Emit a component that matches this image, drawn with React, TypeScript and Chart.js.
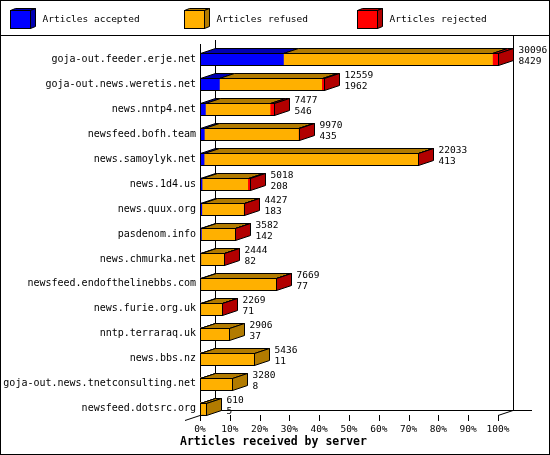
import React, { useEffect, useRef } from "react";
import { Chart, registerables } from "chart.js";

Chart.register(...registerables);

const servers = [
  "goja-out.feeder.erje.net",
  "goja-out.news.weretis.net",
  "news.nntp4.net",
  "newsfeed.bofh.team",
  "news.samoylyk.net",
  "news.1d4.us",
  "news.quux.org",
  "pasdenom.info",
  "news.chmurka.net",
  "newsfeed.endofthelinebbs.com",
  "news.furie.org.uk",
  "nntp.terraraq.uk",
  "news.bbs.nz",
  "goja-out.news.tnetconsulting.net",
  "newsfeed.dotsrc.org",
];
// numbers printed next to each bar
const offered = [30096, 12559, 7477, 9970, 22033, 5018, 4427, 3582, 2444, 7669, 2269, 2906, 5436, 3280, 610];
const accepted = [8429, 1962, 546, 435, 413, 208, 183, 142, 82, 77, 71, 37, 11, 8, 5];
const refused = [21107, 10327, 6531, 9505, 21580, 4610, 4214, 3415, 2342, 7567, 2183, 2869, 5425, 3272, 605];
const rejected = [560, 270, 400, 30, 40, 200, 30, 25, 20, 25, 15, 0, 0, 0, 0];

const seriesNames = ["Articles accepted", "Articles refused", "Articles rejected"];
const faceColors = ["#0000ff", "#ffb000", "#ff0000"];
const shadeColors = ["#0000b2", "#b27b00", "#b20000"];
const percentTicks = [0, 10, 20, 30, 40, 50, 60, 70, 80, 90, 100];
const axisTitle = "Articles received by server";

const maxOffered = Math.max(...offered);
const DX = 15;
const DY = 5;
const MONO = '"DejaVu Sans Mono", monospace';

const px = (v: number) => Math.round(v) + 0.5;

const poly = (ctx: CanvasRenderingContext2D, pts: number[][], fill: string) => {
  ctx.beginPath();
  pts.forEach(([x, y], i) => (i ? ctx.lineTo(x, y) : ctx.moveTo(x, y)));
  ctx.closePath();
  ctx.fillStyle = fill;
  ctx.fill();
  ctx.stroke();
};

const line = (ctx: CanvasRenderingContext2D, x1: number, y1: number, x2: number, y2: number) => {
  ctx.beginPath();
  ctx.moveTo(x1, y1);
  ctx.lineTo(x2, y2);
  ctx.stroke();
};

const box3d = {
  id: "box3d",
  beforeDraw(chart: any) {
    const { ctx, width, height } = chart;
    ctx.save();
    ctx.fillStyle = "#fff";
    ctx.fillRect(0, 0, width, height);
    ctx.restore();
  },
  beforeDatasetsDraw(chart: any) {
    const { ctx, chartArea: a, scales } = chart;
    const floorY = a.bottom - 6;
    ctx.save();
    ctx.strokeStyle = "#000";
    ctx.lineWidth = 1;
    // back wall + floor
    line(ctx, px(a.left + DX), a.top - 7, px(a.left + DX), px(floorY - DY));
    line(ctx, px(a.right + DX), 35, px(a.right + DX), px(floorY - DY));
    line(ctx, a.left + DX, px(floorY - DY), a.right + DX + 19, px(floorY - DY));
    line(ctx, a.left - DX, floorY + DY + 0.5, a.left + DX, floorY - DY + 0.5);
    line(ctx, a.right, floorY + 0.5, a.right + DX, floorY - DY + 0.5);
    // front axis
    line(ctx, px(a.left), a.top - 3, px(a.left), floorY + 6);
    scales.x.ticks.forEach((t: any) => {
      const x = px(scales.x.getPixelForValue(t.value));
      line(ctx, x, floorY, x, floorY + 6);
    });
    ctx.restore();
  },
  afterDatasetsDraw(chart: any) {
    const { ctx, scales } = chart;
    const metas = [0, 1, 2].map((d) => chart.getDatasetMeta(d));
    const series = [accepted, refused, rejected];
    ctx.save();
    ctx.strokeStyle = "#000";
    ctx.lineWidth = 1;
    servers.forEach((_, i) => {
      const b0 = metas[0].data[i];
      const top = Math.round(b0.y - b0.height / 2) + 0.5;
      const bottom = top + Math.round(b0.height);
      const left = px(scales.x.getPixelForValue(0));
      const right = px(scales.x.getPixelForValue(offered[i]));
      let last = 0;
      series.forEach((s, d) => {
        if (s[i] <= 0) return;
        last = d;
        const el = metas[d].data[i];
        const x0 = Math.max(left, px(el.base));
        const x1 = Math.min(right, px(el.x));
        poly(ctx, [[x0, top], [x0 + DX, top - DY], [x1 + DX, top - DY], [x1, top]], shadeColors[d]);
      });
      poly(ctx, [[right, top], [right + DX, top - DY], [right + DX, bottom - DY], [right, bottom]], shadeColors[last]);
      ctx.strokeRect(left, top, right - left, bottom - top);
      ctx.fillStyle = "#000";
      ctx.font = `9.5px ${MONO}`;
      ctx.textAlign = "left";
      ctx.textBaseline = "middle";
      const cy = (top + bottom) / 2;
      ctx.fillText(String(offered[i]), right + DX + 5, cy - 9);
      ctx.fillText(String(accepted[i]), right + DX + 5, cy + 2);
    });
    ctx.restore();
  },
  afterDraw(chart: any) {
    const { ctx, width, height } = chart;
    ctx.save();
    ctx.strokeStyle = "#000";
    ctx.lineWidth = 1;
    // legend
    seriesNames.forEach((name, d) => {
      const x = Math.round(10 + d * 173.7) + 0.5;
      const y = 10.5;
      poly(ctx, [[x, y], [x + 5, y - 2], [x + 25, y - 2], [x + 20, y]], shadeColors[d]);
      poly(ctx, [[x + 20, y], [x + 25, y - 2], [x + 25, y + 16], [x + 20, y + 18]], shadeColors[d]);
      ctx.fillStyle = faceColors[d];
      ctx.fillRect(x, y, 20, 18);
      ctx.strokeRect(x, y, 20, 18);
      ctx.fillStyle = "#000";
      ctx.font = `9.5px ${MONO}`;
      ctx.textBaseline = "middle";
      ctx.fillText(name, x + 32, 20);
    });
    line(ctx, 0, 35.5, width, 35.5);
    ctx.font = `bold 11.5px ${MONO}`;
    ctx.fillStyle = "#000";
    ctx.textBaseline = "middle";
    ctx.fillText(axisTitle, 180, 442);
    ctx.strokeRect(0.5, 0.5, width - 1, height - 1);
    ctx.restore();
  },
};

const App = () => {
  const chartRef = useRef<HTMLCanvasElement | null>(null);

  useEffect(() => {
    if (!chartRef.current) return;
    const series = [accepted, refused, rejected];
    const chart = new Chart(chartRef.current, {
      type: "bar",
      data: {
        labels: servers,
        datasets: series.map((data, d) => ({
          label: seriesNames[d],
          data: data,
          backgroundColor: faceColors[d],
          borderWidth: 0,
          barThickness: 12,
        })),
      },
      options: {
        indexAxis: "y",
        responsive: false,
        animation: false,
        devicePixelRatio: 1,
        layout: { padding: { top: 47, right: 52, left: 0, bottom: 0 } },
        plugins: { legend: { display: false }, tooltip: { enabled: false } },
        scales: {
          x: {
            stacked: true,
            min: 0,
            max: maxOffered,
            afterBuildTicks: (s: any) => {
              s.ticks = percentTicks.map((p) => ({ value: (maxOffered * p) / 100 }));
            },
            afterFit: (s: any) => {
              s.height = 34;
            },
            grid: { display: false, drawTicks: false },
            border: { display: false },
            ticks: {
              autoSkip: false,
              maxRotation: 0,
              padding: 3,
              color: "#000",
              font: { family: MONO, size: 9.5 },
              callback: (_v: any, i: number) => percentTicks[i] + "%",
            },
          },
          y: {
            stacked: true,
            afterFit: (s: any) => {
              s.width = 200;
            },
            grid: { display: false, drawTicks: false },
            border: { display: false },
            ticks: { autoSkip: false, padding: 4, color: "#000", font: { family: MONO, size: 10 } },
          },
        },
      } as any,
      plugins: [box3d],
    });

    return () => {
      chart.destroy();
    };
  }, []);

  return (
    <div style={{ position: "absolute", left: 0, top: 0, width: 550, height: 455 }}>
      <canvas ref={chartRef} width={550} height={455} />
    </div>
  );
};

export default App;
